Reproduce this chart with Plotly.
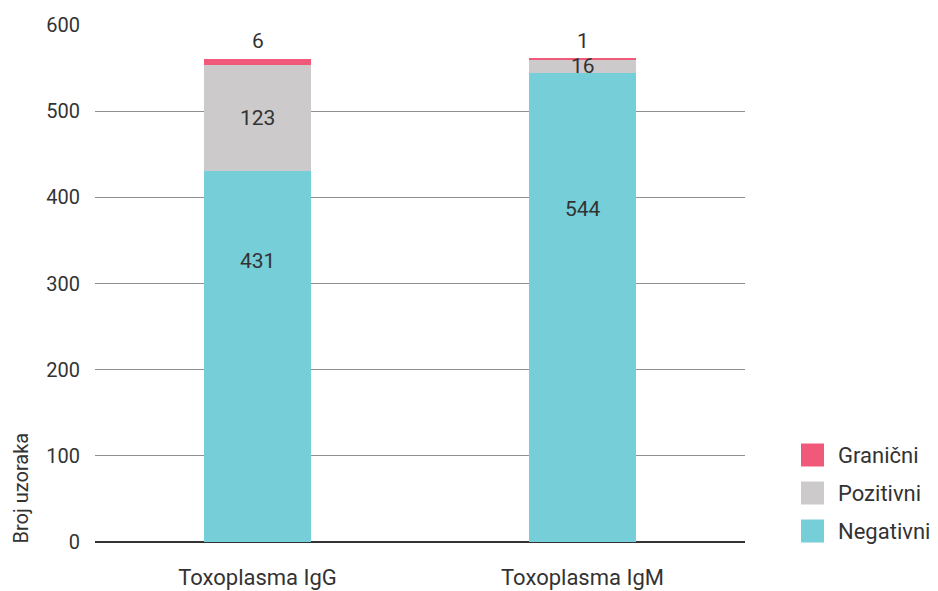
import plotly.graph_objects as go

categories = ["Toxoplasma IgG", "Toxoplasma IgM"]
negativni = [431, 544]
pozitivni = [123, 16]
granicni = [6, 1]
series_names = ["Negativni", "Pozitivni", "Granični"]
y_ticks = [0, 100, 200, 300, 400, 500, 600]

colors = {"Negativni": "#75CED8", "Pozitivni": "#CCCACB", "Granični": "#F0597A"}
FONT = "Roboto"
TXT = "#333333"

# page offset (body margin) compensation
OFF = 8
FW, FH = 938 - OFF, 591 - OFF
L, T = 95 - OFF, 25 - OFF
W, H = 745 - 95, 542 - 25

fig = go.Figure()
for name, vals in zip(series_names, [negativni, pozitivni, granicni]):
    fig.add_trace(go.Bar(x=categories, y=vals, name=name, marker_color=colors[name],
                         marker_line_width=0, width=0.332, showlegend=False))

# data labels
neg_label_frac = [0.756, 0.71]
for i, c in enumerate(categories):
    fig.add_annotation(x=c, y=negativni[i] * neg_label_frac[i], text=str(negativni[i]),
                       showarrow=False, font=dict(size=21, color=TXT, family=FONT))
    fig.add_annotation(x=c, y=negativni[i] + pozitivni[i] / 2, text=str(pozitivni[i]),
                       showarrow=False, font=dict(size=21, color=TXT, family=FONT))
    top = negativni[i] + pozitivni[i] + granicni[i]
    fig.add_annotation(x=c, y=top, yshift=4, yanchor="bottom", text=str(granicni[i]),
                       showarrow=False, font=dict(size=21, color=TXT, family=FONT))

def px_x(p):
    return (p - OFF - L) / W
def px_y(p):
    return (T + H - (p - OFF)) / H

# y axis title at bottom left
fig.add_annotation(xref="paper", yref="paper", x=px_x(20), y=px_y(546), xanchor="center", yanchor="bottom",
                   text="Broj uzoraka", textangle=-90, showarrow=False,
                   font=dict(size=20, color=TXT, family=FONT))

# custom legend
legend_items = ["Granični", "Pozitivni", "Negativni"]
for k, name in enumerate(legend_items):
    cy = 455 + 38 * k
    fig.add_shape(type="rect", xref="paper", yref="paper",
                  x0=px_x(801), x1=px_x(824), y0=px_y(cy + 11.5), y1=px_y(cy - 11.5),
                  fillcolor=colors[name], line_width=0)
    fig.add_annotation(xref="paper", yref="paper", x=px_x(836), y=px_y(cy), xanchor="left",
                       yanchor="middle", text=name, showarrow=False,
                       font=dict(size=22, color=TXT, family=FONT))

fig.update_layout(
    barmode="stack",
    width=FW, height=FH,
    margin=dict(l=L, r=FW - L - W, t=T, b=FH - T - H, autoexpand=False),
    paper_bgcolor="white", plot_bgcolor="white",
    font=dict(family=FONT, color=TXT),
    xaxis=dict(showgrid=False, tickfont=dict(size=22, color=TXT, family=FONT), automargin=False,
               ticks="outside", ticklen=16, tickcolor="rgba(0,0,0,0)", showline=False),
    yaxis=dict(range=[0, 600], tickvals=y_ticks, showgrid=True, gridcolor="#8f8f8f", gridwidth=1,
               zeroline=True, zerolinecolor="#333333", zerolinewidth=1.5, automargin=False,
               tickfont=dict(size=20, color=TXT, family=FONT), ticklabelstandoff=14),
)

fig.write_html("out.html")
